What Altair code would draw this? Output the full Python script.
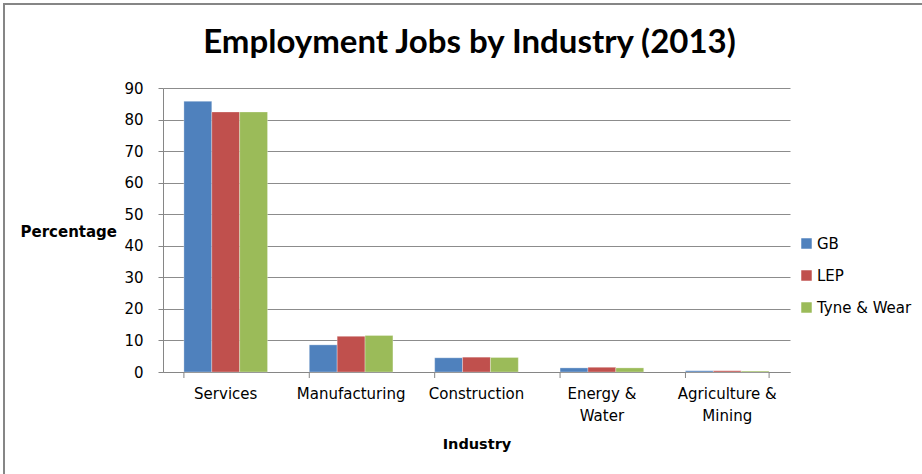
import altair as alt
import pandas as pd

industries = ["Services", "Manufacturing", "Construction", "Energy & Water", "Agriculture & Mining"]
series = ["GB", "LEP", "Tyne & Wear"]
gb = [85.8, 8.6, 4.5, 1.3, 0.4]
lep = [82.4, 11.3, 4.7, 1.5, 0.4]
tyne = [82.4, 11.6, 4.6, 1.3, 0.3]
colors = ["#4F81BD", "#C0504D", "#9BBB59"]
y_ticks = [0, 10, 20, 30, 40, 50, 60, 70, 80, 90]

rows = []
for s, vals in zip(series, [gb, lep, tyne]):
    for ind, v in zip(industries, vals):
        rows.append({"Industry": ind, "Series": s, "Value": v})
df = pd.DataFrame(rows)
cats = pd.DataFrame({"Industry": industries})
last = pd.DataFrame({"Industry": industries[-1:]})

FONT = "DejaVu Sans"
TFONT = "Lato"
W, H = 627, 284

xscale = alt.Scale(domain=industries, paddingInner=0.333, paddingOuter=0.1667)

bars = alt.Chart(df).mark_bar(stroke="white", strokeWidth=0.5, strokeOpacity=0.6).encode(
    x=alt.X("Industry:N", scale=xscale, sort=industries,
            axis=alt.Axis(title="Industry", labelAngle=0, tickSize=0, labelPadding=14,
                          labelFontSize=15, labelColor="#000", labelFont=FONT,
                          labelLimit=200,
                          labelExpr="indexof(datum.value,'&')>0 ? [slice(datum.value,0,indexof(datum.value,'&')+1), slice(datum.value,indexof(datum.value,'&')+2)] : datum.value",
                          titleFont=FONT, titleFontSize=14.5, titleFontWeight="bold", titleColor="#000",
                          titlePadding=14, domainColor="#868686", labelLineHeight=22)),
    xOffset=alt.XOffset("Series:N", sort=series, scale=alt.Scale(paddingInner=0, paddingOuter=0)),
    y=alt.Y("Value:Q", scale=alt.Scale(domain=[0, 90], nice=False),
            axis=alt.Axis(values=y_ticks, title="Percentage", titleAngle=0,
                          titleX=-143, titleY=143, titleAlign="left", titleBaseline="middle",
                          titleFont=FONT, titleFontSize=15, titleFontWeight="bold", titleColor="#000",
                          labelFont=FONT, labelFontSize=15, labelColor="#000", labelPadding=15,
                          tickSize=5, tickColor="#868686", domainColor="#868686",
                          gridColor="#8c8c8c", gridWidth=1)),
    color=alt.Color("Series:N", sort=series, scale=alt.Scale(domain=series, range=colors),
                    legend=alt.Legend(title=None, orient="none", legendX=636, legendY=148,
                                      symbolType="square", symbolSize=110, symbolStrokeWidth=0,
                                      labelFont=FONT, labelFontSize=15, labelColor="#000",
                                      rowPadding=16, labelOffset=3)),
)

ticks = alt.Chart(cats).mark_rule(color="#868686").encode(
    x=alt.X("Industry:N", sort=industries, scale=xscale, bandPosition=0),
    y=alt.value(H), y2=alt.value(H + 6),
)
ticks_end = alt.Chart(last).mark_rule(color="#868686").encode(
    x=alt.X("Industry:N", sort=industries, scale=xscale, bandPosition=1),
    y=alt.value(H), y2=alt.value(H + 6),
)
frame = alt.Chart(cats).mark_rect(fill=None, stroke="#868686", strokeWidth=1.5).encode(
    x=alt.value(-159), x2=alt.value(W + 200), y=alt.value(-84), y2=alt.value(H + 150),
)

chart = alt.layer(frame, bars, ticks, ticks_end).properties(
    width=W, height=H,
    autosize=alt.AutoSizeParams(type="none"),
    padding={"left": 163, "top": 88, "right": 132, "bottom": 102},
    title=alt.TitleParams("Employment Jobs by Industry (2013)", font=TFONT, fontSize=33,
                          fontWeight="bold", color="#000", anchor="middle", offset=0,
                          baseline="alphabetic", dy=83, dx=-7),
).configure_view(stroke=None).configure_axis(grid=False).configure_axisY(grid=True)

chart.save("out.html", embed_options={"renderer": "svg", "actions": False})
